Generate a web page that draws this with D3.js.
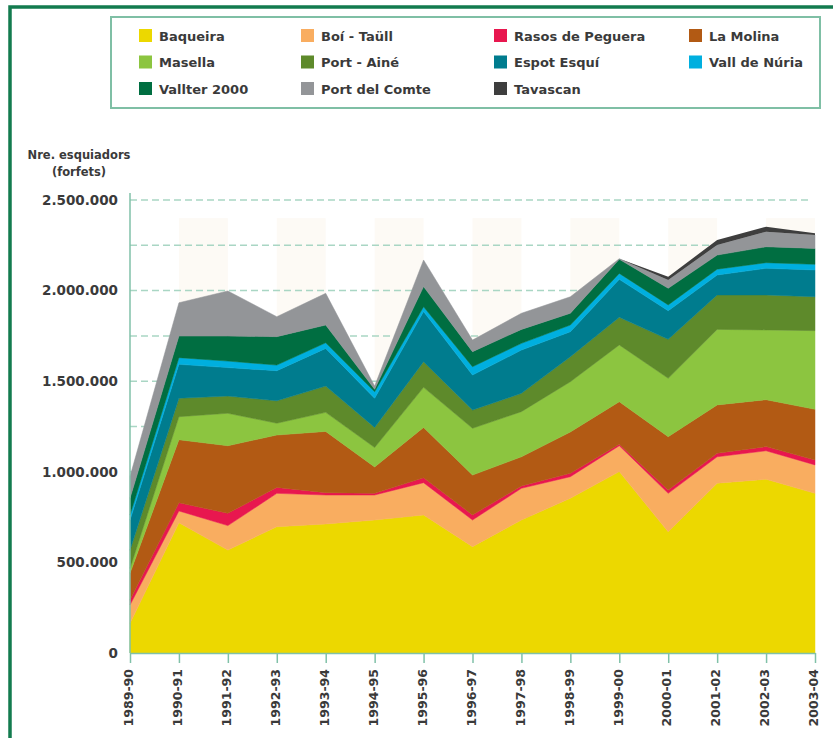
<!DOCTYPE html>
<html>
<head>
<meta charset="utf-8">
<script src="https://cdn.jsdelivr.net/npm/d3@7"></script>
<style>
  body { margin: 0; background: #fff; }
  svg { display: block; }
  text { font-family: "DejaVu Sans", sans-serif; font-weight: bold; fill: #3a3a3a; }
</style>
</head>
<body>
<div id="chart"></div>
<script>
// temporades (x axis)
var seasons = ["1989-90","1990-91","1991-92","1992-93","1993-94","1994-95","1995-96",
  "1996-97","1997-98","1998-99","1999-00","2000-01","2001-02","2002-03","2003-04"];

// esquiadors per estacio
var baqueira   = [164000, 719000, 568000, 697000, 712000, 734000, 762000, 587000, 734000, 854000, 1001000, 669000, 937000, 959000, 881000];
var boiTaull   = [101000, 65000, 135000, 184000, 160000, 138000, 178000, 147000, 175000, 119000, 143000, 212000, 146000, 157000, 157000];
var rasos      = [27000, 45000, 68000, 33000, 13000, 9000, 27000, 28000, 13000, 19000, 8000, 19000, 19000, 23000, 27000];
var laMolina   = [148000, 348000, 373000, 289000, 338000, 146000, 278000, 220000, 161000, 228000, 235000, 294000, 267000, 259000, 280000];
var masella    = [27000, 127000, 179000, 65000, 105000, 107000, 221000, 258000, 249000, 277000, 313000, 322000, 417000, 385000, 434000];
var portAine   = [100000, 102000, 95000, 124000, 145000, 111000, 142000, 101000, 101000, 138000, 153000, 215000, 190000, 193000, 187000];
var espot      = [166000, 187000, 157000, 166000, 208000, 161000, 276000, 193000, 239000, 138000, 209000, 158000, 110000, 147000, 148000];
var vallNuria  = [28000, 37000, 36000, 31000, 31000, 36000, 27000, 46000, 37000, 37000, 33000, 32000, 32000, 31000, 31000];
var vallter    = [93000, 119000, 138000, 157000, 98000, 13000, 111000, 83000, 77000, 65000, 78000, 92000, 78000, 88000, 88000];
var portComte  = [120000, 184000, 249000, 110000, 175000, 18000, 147000, 64000, 89000, 91000, 3000, 45000, 56000, 83000, 74000];
var tavascan   = [0, 0, 0, 0, 0, 0, 0, 0, 0, 0, 0, 19000, 27000, 28000, 9000];

var names  = ["Baqueira","Boí - Taüll","Rasos de Peguera","La Molina","Masella","Port - Ainé",
  "Espot Esquí","Vall de Núria","Vallter 2000","Port del Comte","Tavascan"];
var series = [baqueira, boiTaull, rasos, laMolina, masella, portAine, espot, vallNuria, vallter, portComte, tavascan];
var colors = ["#ecd800","#f9ad60","#e8174f","#b25a14","#8cc540","#5e8a2b",
  "#007c8e","#00afdf","#006e41","#939598","#3e3e3e"];

var yTicks = [0, 500000, 1000000, 1500000, 2000000, 2500000];
var gridValues = [250000, 500000, 750000, 1000000, 1250000, 1500000, 1750000, 2000000, 2250000, 2500000];

// set the dimensions and margins of the graph
var margin = {top: 200, right: 18, bottom: 85, left: 130},
    width = 833 - margin.left - margin.right,
    height = 738 - margin.top - margin.bottom;

var svg = d3.select("#chart")
  .append("svg")
    .attr("width", 833)
    .attr("height", 738);

// outer frame
svg.append("rect")
  .attr("x", 10).attr("y", 7)
  .attr("width", 900).attr("height", 900)
  .attr("fill", "none")
  .attr("stroke", "#137b4f")
  .attr("stroke-width", 3.5);

// legend box
svg.append("rect")
  .attr("x", 111).attr("y", 17)
  .attr("width", 709).attr("height", 91)
  .attr("fill", "#fff")
  .attr("stroke", "#7fbfa5")
  .attr("stroke-width", 2);

var colX = [139, 301, 494, 689];
names.forEach(function(n, i) {
  var lx = colX[i % 4], ly = 29 + Math.floor(i / 4) * 26.5;
  svg.append("rect")
    .attr("x", lx).attr("y", ly)
    .attr("width", 13).attr("height", 13)
    .attr("fill", colors[i]);
  svg.append("text")
    .attr("x", lx + 20).attr("y", ly + 11.5)
    .style("font-size", "13px")
    .text(n);
});

// y axis title
svg.append("text")
  .attr("x", 79).attr("y", 159)
  .attr("text-anchor", "middle")
  .style("font-size", "11.5px")
  .text("Nre. esquiadors");
svg.append("text")
  .attr("x", 79).attr("y", 176)
  .attr("text-anchor", "middle")
  .style("font-size", "11.5px")
  .text("(forfets)");

var g = svg.append("g")
  .attr("transform", "translate(" + margin.left + "," + margin.top + ")");

var x = d3.scalePoint()
  .domain(seasons)
  .range([0, width]);

var y = d3.scaleLinear()
  .domain([0, 2500000])
  .range([height, 0]);

// faint background bands
for (var i = 1; i < seasons.length - 1; i += 2) {
  g.append("rect")
    .attr("x", x(seasons[i]))
    .attr("y", y(2400000))
    .attr("width", x(seasons[i + 1]) - x(seasons[i]))
    .attr("height", height - y(2400000))
    .attr("fill", "#fdfaf5");
}

// dashed grid
g.selectAll(".grid")
  .data(gridValues)
  .enter()
  .append("line")
    .attr("x1", 0).attr("x2", width - 5)
    .attr("y1", function(d) { return y(d); })
    .attr("y2", function(d) { return y(d); })
    .attr("stroke", "#a9d6c4")
    .attr("stroke-width", 1.5)
    .attr("stroke-dasharray", "7,4");

// stacked areas
var table = seasons.map(function(s, i) {
  var row = {season: s};
  names.forEach(function(n, k) { row[n] = series[k][i]; });
  return row;
});

var stacked = d3.stack().keys(names)(table);

var area = d3.area()
  .x(function(d) { return x(d.data.season); })
  .y0(function(d) { return y(d[0]); })
  .y1(function(d) { return y(d[1]); });

g.selectAll(".layer")
  .data(stacked)
  .enter()
  .append("path")
    .attr("fill", function(d, i) { return colors[i]; })
    // thin stroke hides seams, but not on the top layer (it is zero for years)
    .attr("stroke", function(d, i) { return i < names.length - 1 ? colors[i] : "none"; })
    .attr("stroke-width", 0.5)
    .attr("d", area);

// y axis
g.append("line")
  .attr("x1", 0).attr("x2", 0)
  .attr("y1", height).attr("y2", -7)
  .attr("stroke", "#80c1a8")
  .attr("stroke-width", 1.5);

var yAxis = g.append("g")
  .call(d3.axisLeft(y).tickValues(yTicks).tickSize(0).tickPadding(12)
    .tickFormat(function(d) { return d3.format(",")(d).replace(/,/g, "."); }));
yAxis.select(".domain").remove();
yAxis.selectAll("text")
  .style("font-size", "13.5px")
  .attr("fill", "#3a3a3a");

// x axis
var xAxis = g.append("g")
  .attr("transform", "translate(0," + height + ")")
  .call(d3.axisBottom(x).tickSize(10).tickSizeOuter(0));
xAxis.select(".domain")
  .attr("stroke", "#80c1a8")
  .attr("stroke-width", 1.5);
xAxis.selectAll(".tick line")
  .attr("stroke", "#80c1a8")
  .attr("stroke-width", 1.5);
xAxis.selectAll("text")
  .attr("transform", "rotate(-90)")
  .attr("text-anchor", "end")
  .attr("x", -16)
  .attr("y", 0)
  .attr("dy", "0.22em")
  .attr("fill", "#3a3a3a")
  .style("font-size", "12.5px");
</script>
</body>
</html>
